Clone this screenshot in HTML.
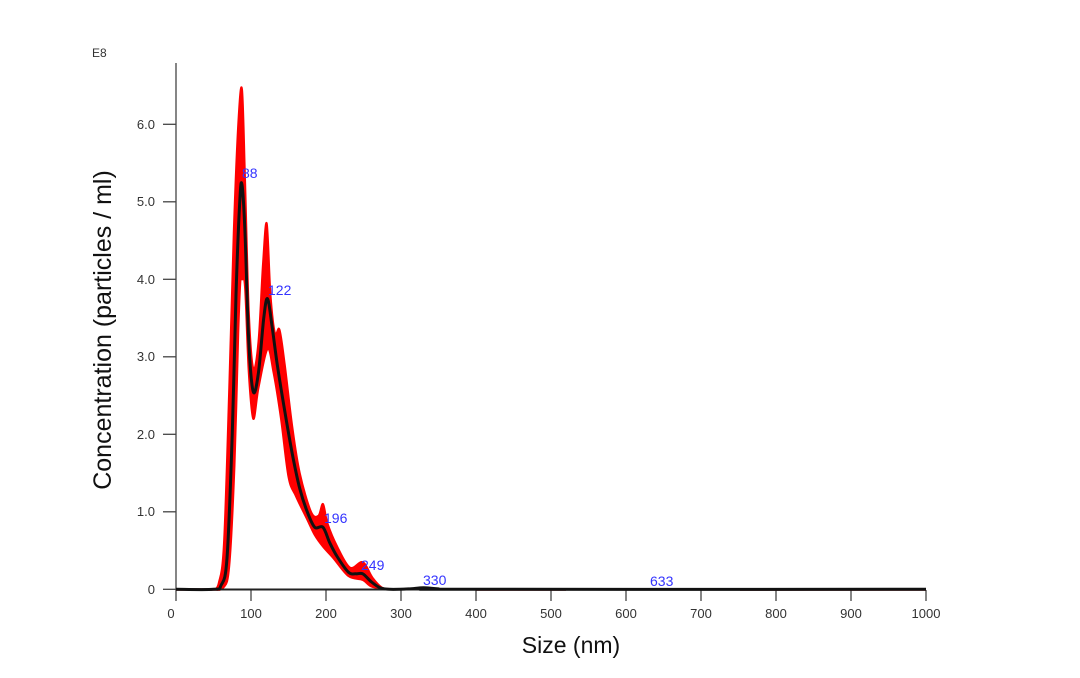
<!DOCTYPE html>
<html><head><meta charset="utf-8"><style>
html,body{margin:0;padding:0;background:#fff;}
svg{display:block;font-family:"Liberation Sans",Arial,sans-serif;}
</style></head><body>
<svg id="s" width="1080" height="678" viewBox="0 0 1080 678">
<g stroke="#444" stroke-width="1.3" fill="none">
<line x1="176" y1="63" x2="176" y2="590"/>
<line x1="163" y1="124.3" x2="176" y2="124.3"/>
<line x1="163" y1="201.8" x2="176" y2="201.8"/>
<line x1="163" y1="279.3" x2="176" y2="279.3"/>
<line x1="163" y1="356.8" x2="176" y2="356.8"/>
<line x1="163" y1="434.3" x2="176" y2="434.3"/>
<line x1="163" y1="511.8" x2="176" y2="511.8"/>
<line x1="163" y1="589.3" x2="176" y2="589.3"/>
</g>
<g id="xt" stroke="#444" stroke-width="1.3"></g>
<g font-size="13" fill="#333" text-anchor="end">
<text x="155" y="129">6.0</text><text x="155" y="206">5.0</text><text x="155" y="284">4.0</text>
<text x="155" y="361">3.0</text><text x="155" y="439">2.0</text><text x="155" y="516">1.0</text><text x="155" y="594">0</text>
</g>
<text x="92" y="57" font-size="12" fill="#333">E8</text>
<g id="xl" font-size="13" fill="#333" text-anchor="middle"></g>
<text transform="translate(111,330) rotate(-90)" font-size="25" text-anchor="middle" fill="#111">Concentration (particles / ml)</text>
<text x="571" y="653" font-size="23" text-anchor="middle" fill="#111">Size (nm)</text>
<path id="band" fill="#f00" stroke="#f00" stroke-width="2"/>
<line x1="176" y1="589.5" x2="926" y2="589.5" stroke="#222" stroke-width="2"/>
<line x1="176" y1="589.5" x2="218" y2="589.5" stroke="#7a0000" stroke-width="2.5"/>
<line x1="740" y1="589.5" x2="926" y2="589.5" stroke="#7a0000" stroke-width="2.5"/>
<line x1="476" y1="589.5" x2="566" y2="589.5" stroke="#7a0000" stroke-width="2.5"/>
<path id="mean" fill="none" stroke="#111" stroke-width="3"/>
<g font-size="14" fill="#3333ff">
<text x="242" y="178">88</text><text x="268" y="295">122</text><text x="324" y="523">196</text>
<text x="361" y="570">249</text><text x="423" y="585">330</text><text x="650" y="586">633</text>
</g>
</svg>
<script>
var X=s=>176+0.75*s, Y=v=>589.3-77.5*v;
var xt=document.getElementById('xt'),xl=document.getElementById('xl'),ns='http://www.w3.org/2000/svg';
for(var i=0;i<=10;i++){var x=X(i*100);var l=document.createElementNS(ns,'line');l.setAttribute('x1',x);l.setAttribute('x2',x);l.setAttribute('y1',590);l.setAttribute('y2',601);xt.appendChild(l);
var t=document.createElementNS(ns,'text');t.setAttribute('x',i==0?x-5:x);t.setAttribute('y',618);t.textContent=i*100;xl.appendChild(t);}
function cr(p){var d='M'+X(p[0][0])+','+Y(p[0][1]);for(var i=0;i<p.length-1;i++){var p0=p[Math.max(i-1,0)],p1=p[i],p2=p[i+1],p3=p[Math.min(i+2,p.length-1)];
var a=[X(p0[0]),Y(p0[1])],b=[X(p1[0]),Y(p1[1])],c=[X(p2[0]),Y(p2[1])],e=[X(p3[0]),Y(p3[1])];
d+=' C'+(b[0]+(c[0]-a[0])/6)+','+(b[1]+(c[1]-a[1])/6)+' '+(c[0]-(e[0]-b[0])/6)+','+(c[1]-(e[1]-b[1])/6)+' '+c[0]+','+c[1];}return d;}
var mean=[[0,0],[50,0],[60,0.05],[68,0.4],[75,2],[80,3.8],[85,5.0],[88,5.22],[92,4.6],[97,3.2],[103,2.55],[110,2.8],[117,3.5],[122,3.75],[128,3.4],[135,2.9],[145,2.3],[155,1.75],[165,1.3],[175,1.0],[185,0.8],[196,0.8],[205,0.6],[215,0.42],[230,0.22],[240,0.2],[249,0.2],[260,0.1],[272,0.02],[285,0],[310,0.005],[330,0.02],[350,0.005],[380,0],[1000,0]];
var up=[[50,0],[57,0.08],[64,0.6],[71,2.6],[77,4.6],[83,6.0],[88,6.45],[92,5.3],[97,3.6],[103,2.85],[110,3.2],[116,4.2],[121,4.72],[126,3.8],[132,3.3],[138,3.35],[145,2.9],[155,2.1],[165,1.5],[180,1.0],[190,0.95],[196,1.1],[202,0.85],[215,0.55],[232,0.28],[249,0.35],[262,0.15],[275,0.02],[290,0]];
var lo=[[50,0],[63,0.02],[71,0.3],[78,1.6],[83,3.3],[86,4.0],[88,4.0],[92,3.9],[97,2.8],[103,2.2],[110,2.6],[122,3.1],[130,2.8],[140,2.2],[150,1.45],[160,1.2],[175,0.9],[185,0.7],[196,0.55],[210,0.4],[230,0.17],[249,0.12],[262,0.03],[290,0]];
document.getElementById('mean').setAttribute('d',cr(mean));
var d1=cr(up),d2=cr(lo.slice().reverse());
document.getElementById('band').setAttribute('d',d1+' L'+d2.slice(1)+' Z');
</script>
</body></html>
